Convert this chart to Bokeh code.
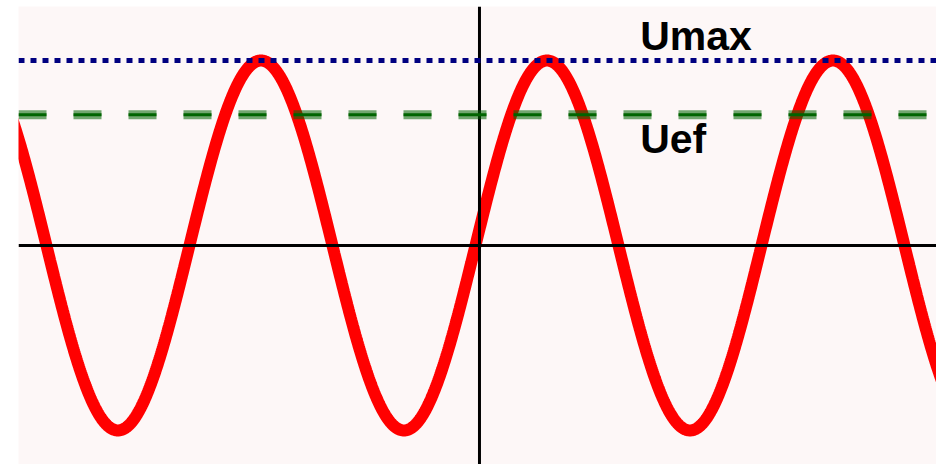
import numpy as np
from bokeh.plotting import figure
from bokeh.models import Span, Label
from bokeh.embed import file_html
from bokeh.resources import INLINE

# Chart parameters
AMPLITUDE = 1.0            # Umax
UEF = 0.707                # effective value line (Umax / sqrt 2)
PERIOD = 2 * np.pi
PHASE = 0.088              # small shift of the zero crossing
X_START, X_END = -10.127, 10.04
Y_START, Y_END = -1.184, 1.292
labels = ["Umax", "Uef"]
label_x = [3.53, 3.53]
label_y = [1.132, 0.575]

x = np.linspace(X_START - 0.3, X_END + 0.3, 1400)
y = AMPLITUDE * np.sin(2 * np.pi * x / PERIOD + PHASE)

p = figure(width=936, height=464, output_backend="svg", toolbar_location=None,
           x_range=(X_START, X_END), y_range=(Y_START, Y_END),
           x_axis_location=None, y_axis_location=None,
           min_border_left=18, min_border_right=0, min_border_top=6, min_border_bottom=0)
p.grid.visible = False
p.outline_line_color = None
p.background_fill_color = "#fdf7f7"
p.border_fill_color = "white"

# axes through origin
p.add_layout(Span(location=0, dimension="width", line_color="black", line_width=3))
p.add_layout(Span(location=0, dimension="height", line_color="black", line_width=3))

# Umax dotted
p.add_layout(Span(location=AMPLITUDE, dimension="width", line_color="#000080",
                  line_width=5, line_dash="6 6"))

# sine
p.line(x, y, line_color="#ff0000", line_width=12)

# Uef dashed (halo + dark core)
p.add_layout(Span(location=UEF, dimension="width", line_color="#006400", line_alpha=0.55,
                  line_width=9, line_dash="28 27"))
p.add_layout(Span(location=UEF, dimension="width", line_color="#006400",
                  line_width=3, line_dash="28 27"))

for t, lx, ly in zip(labels, label_x, label_y):
    p.add_layout(Label(x=lx, y=ly, text=t, text_font="Liberation Sans", text_font_size="41px",
                       text_font_style="bold", text_color="black", text_baseline="alphabetic"))

open("out.html", "w").write(file_html(p, INLINE))
